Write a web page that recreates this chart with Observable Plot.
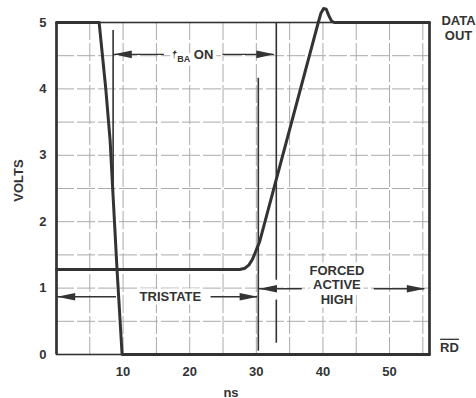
<!DOCTYPE html>
<html><head><meta charset="utf-8">
<script src="https://cdn.jsdelivr.net/npm/d3@7"></script>
<script src="https://cdn.jsdelivr.net/npm/@observablehq/plot@0.6"></script>
<style>body{margin:0;background:#fff} svg{display:block}</style>
</head><body><div id="chart"></div>
<script>
// ---- data ----
const xTicks = [10, 20, 30, 40, 50];
const yTicks = [0, 1, 2, 3, 4, 5];
const xGrid = [5, 10, 15, 20, 25, 30, 35, 40, 45, 50, 55];
const yGrid = [0.5, 1, 1.5, 2, 2.5, 3, 3.5, 4, 4.5];

// RD waveform (ns, volts)
const rdT = [0, 6.4, 7.4, 8.05, 9.1, 9.85, 56];
const rdV = [5, 5, 4, 3.22, 1.26, 0, 0];

// DATA OUT waveform (ns, volts)
const outT = [0, 27.5, 28.3, 28.9, 29.4, 29.9, 30.5, 39.3, 39.7, 40.1, 40.5, 40.9, 41.3, 41.7, 56];
const outV = [1.28, 1.28, 1.30, 1.35, 1.43, 1.55, 1.70, 5.0, 5.14, 5.21, 5.2, 5.1, 5.02, 5.0, 5.0];

// vertical timing markers
const markX = [8.5, 30.3, 33, 33];
const markY1 = [2.4, 0.05, 1.12, 0.17];
const markY2 = [4.88, 4.16, 5.0, 0.82];

// horizontal arrow shafts
const shaftY = [4.52, 4.52, 0.87, 0.87, 0.99, 0.99];
const shaftX1 = [8.6, 25.0, 0.1, 23.2, 30.4, 47.7];
const shaftX2 = [16.2, 32.7, 9.0, 30.2, 36.9, 55.3];

// arrowheads (tip position, direction)
const headX = [8.6, 32.7, 0.1, 30.2, 30.4, 55.3];
const headY = [4.52, 4.52, 0.87, 0.87, 0.99, 0.99];
const headDir = ["left", "right", "left", "right", "left", "right"];

// annotation labels
const noteText = ["tBA ON", "TRISTATE", "FORCED\nACTIVE\nHIGH"];
const noteX = [20.5, 17.1, 42.1];
const noteY = [4.52, 0.87, 1.05];

const axisLabelX = "ns";
const axisLabelY = "VOLTS";
const seriesLabels = ["DATA", "OUT", "RD"];

// ---- tables ----
const rd = rdT.map((t, i) => ({t, v: rdV[i]}));
const out = outT.map((t, i) => ({t, v: outV[i]}));
const marks = markX.map((x, i) => ({x, y1: markY1[i], y2: markY2[i]}));
const shafts = shaftY.map((y, i) => ({y, x1: shaftX1[i], x2: shaftX2[i]}));
const heads = headX.map((x, i) => ({x, y: headY[i], rot: headDir[i] === "left" ? 180 : 0}));
const notes = noteText.map((text, i) => ({text, x: noteX[i], y: noteY[i]}));

const arrowHead = {
  draw(ctx) {
    ctx.moveTo(0, 0);
    ctx.lineTo(-18, -3.8);
    ctx.lineTo(-18, 3.8);
    ctx.closePath();
  }
};

const ink = "#333";
const chart = Plot.plot({
  width: 476, height: 398,
  marginLeft: 56, marginRight: 47, marginTop: 22, marginBottom: 44,
  x: {domain: [0, 56]},
  y: {domain: [0, 5]},
  style: {fontFamily: "'Liberation Sans', Arial, Helvetica, sans-serif", fontSize: "13px", fontWeight: "bold", color: ink, background: "#fff", overflow: "hidden"},
  marks: [
    Plot.ruleX(xGrid, {stroke: "#aaa", strokeWidth: 1, strokeDasharray: "18,3"}),
    Plot.ruleY(yGrid, {stroke: "#aaa", strokeWidth: 1, strokeDasharray: "18,3"}),
    Plot.frame({stroke: ink, strokeWidth: 1.6}),
    Plot.ruleX([0, 56], {stroke: ink, strokeWidth: 2.6}),
    Plot.ruleX(marks, {x: "x", y1: "y1", y2: "y2", stroke: ink, strokeWidth: 1.6}),
    Plot.ruleY(shafts, {y: "y", x1: "x1", x2: "x2", stroke: ink, strokeWidth: 1.3}),
    Plot.dot(heads, {x: "x", y: "y", rotate: "rot", symbol: arrowHead, fill: ink, stroke: "none"}),
    Plot.line(out, {x: "t", y: "v", stroke: ink, strokeWidth: 3, strokeLinejoin: "round", curve: "linear"}),
    Plot.line(rd, {x: "t", y: "v", stroke: ink, strokeWidth: 3, strokeLinejoin: "round"}),
    Plot.text(notes, {x: "x", y: "y", text: "text", fill: ink, stroke: "white", strokeWidth: 7, lineHeight: 1.1, fontSize: 13}),
    Plot.axisX(xTicks, {tickSize: 0, tickPadding: 12, label: null, fontSize: 13}),
    Plot.axisY(yTicks, {tickSize: 0, tickPadding: 10, label: null, fontSize: 13, tickFormat: d3.format("d")}),
    Plot.text([axisLabelX], {frameAnchor: "bottom", dx: -12, dy: 42, fill: ink}),
    Plot.text([axisLabelY], {frameAnchor: "left", textAnchor: "middle", rotate: -90, dx: -38, dy: -8, fill: ink}),
    Plot.text([seriesLabels[0]], {x: 56, y: 5, dx: 29, dy: -2, fill: ink}),
    Plot.text([seriesLabels[1]], {x: 56, y: 5, dx: 29, dy: 13, fill: ink}),
    Plot.text([seriesLabels[2]], {x: 56, y: 0, dx: 20, dy: -7, fill: ink})
  ]
});

// subscript and overline styling
d3.select(chart).selectAll("text").each(function() {
  const el = d3.select(this);
  const s = this.textContent;
  if (s === "tBA ON") {
    el.text(null);
    el.append("tspan").attr("font-size", 13).text("t");
    el.append("tspan").attr("font-size", 9).attr("baseline-shift", "-3").text("BA");
    el.append("tspan").attr("font-size", 13).text(" ON");
  } else if (s === "RD") {
    el.style("text-decoration", "overline");
  }
});

document.getElementById("chart").appendChild(chart);
</script>
</body></html>
